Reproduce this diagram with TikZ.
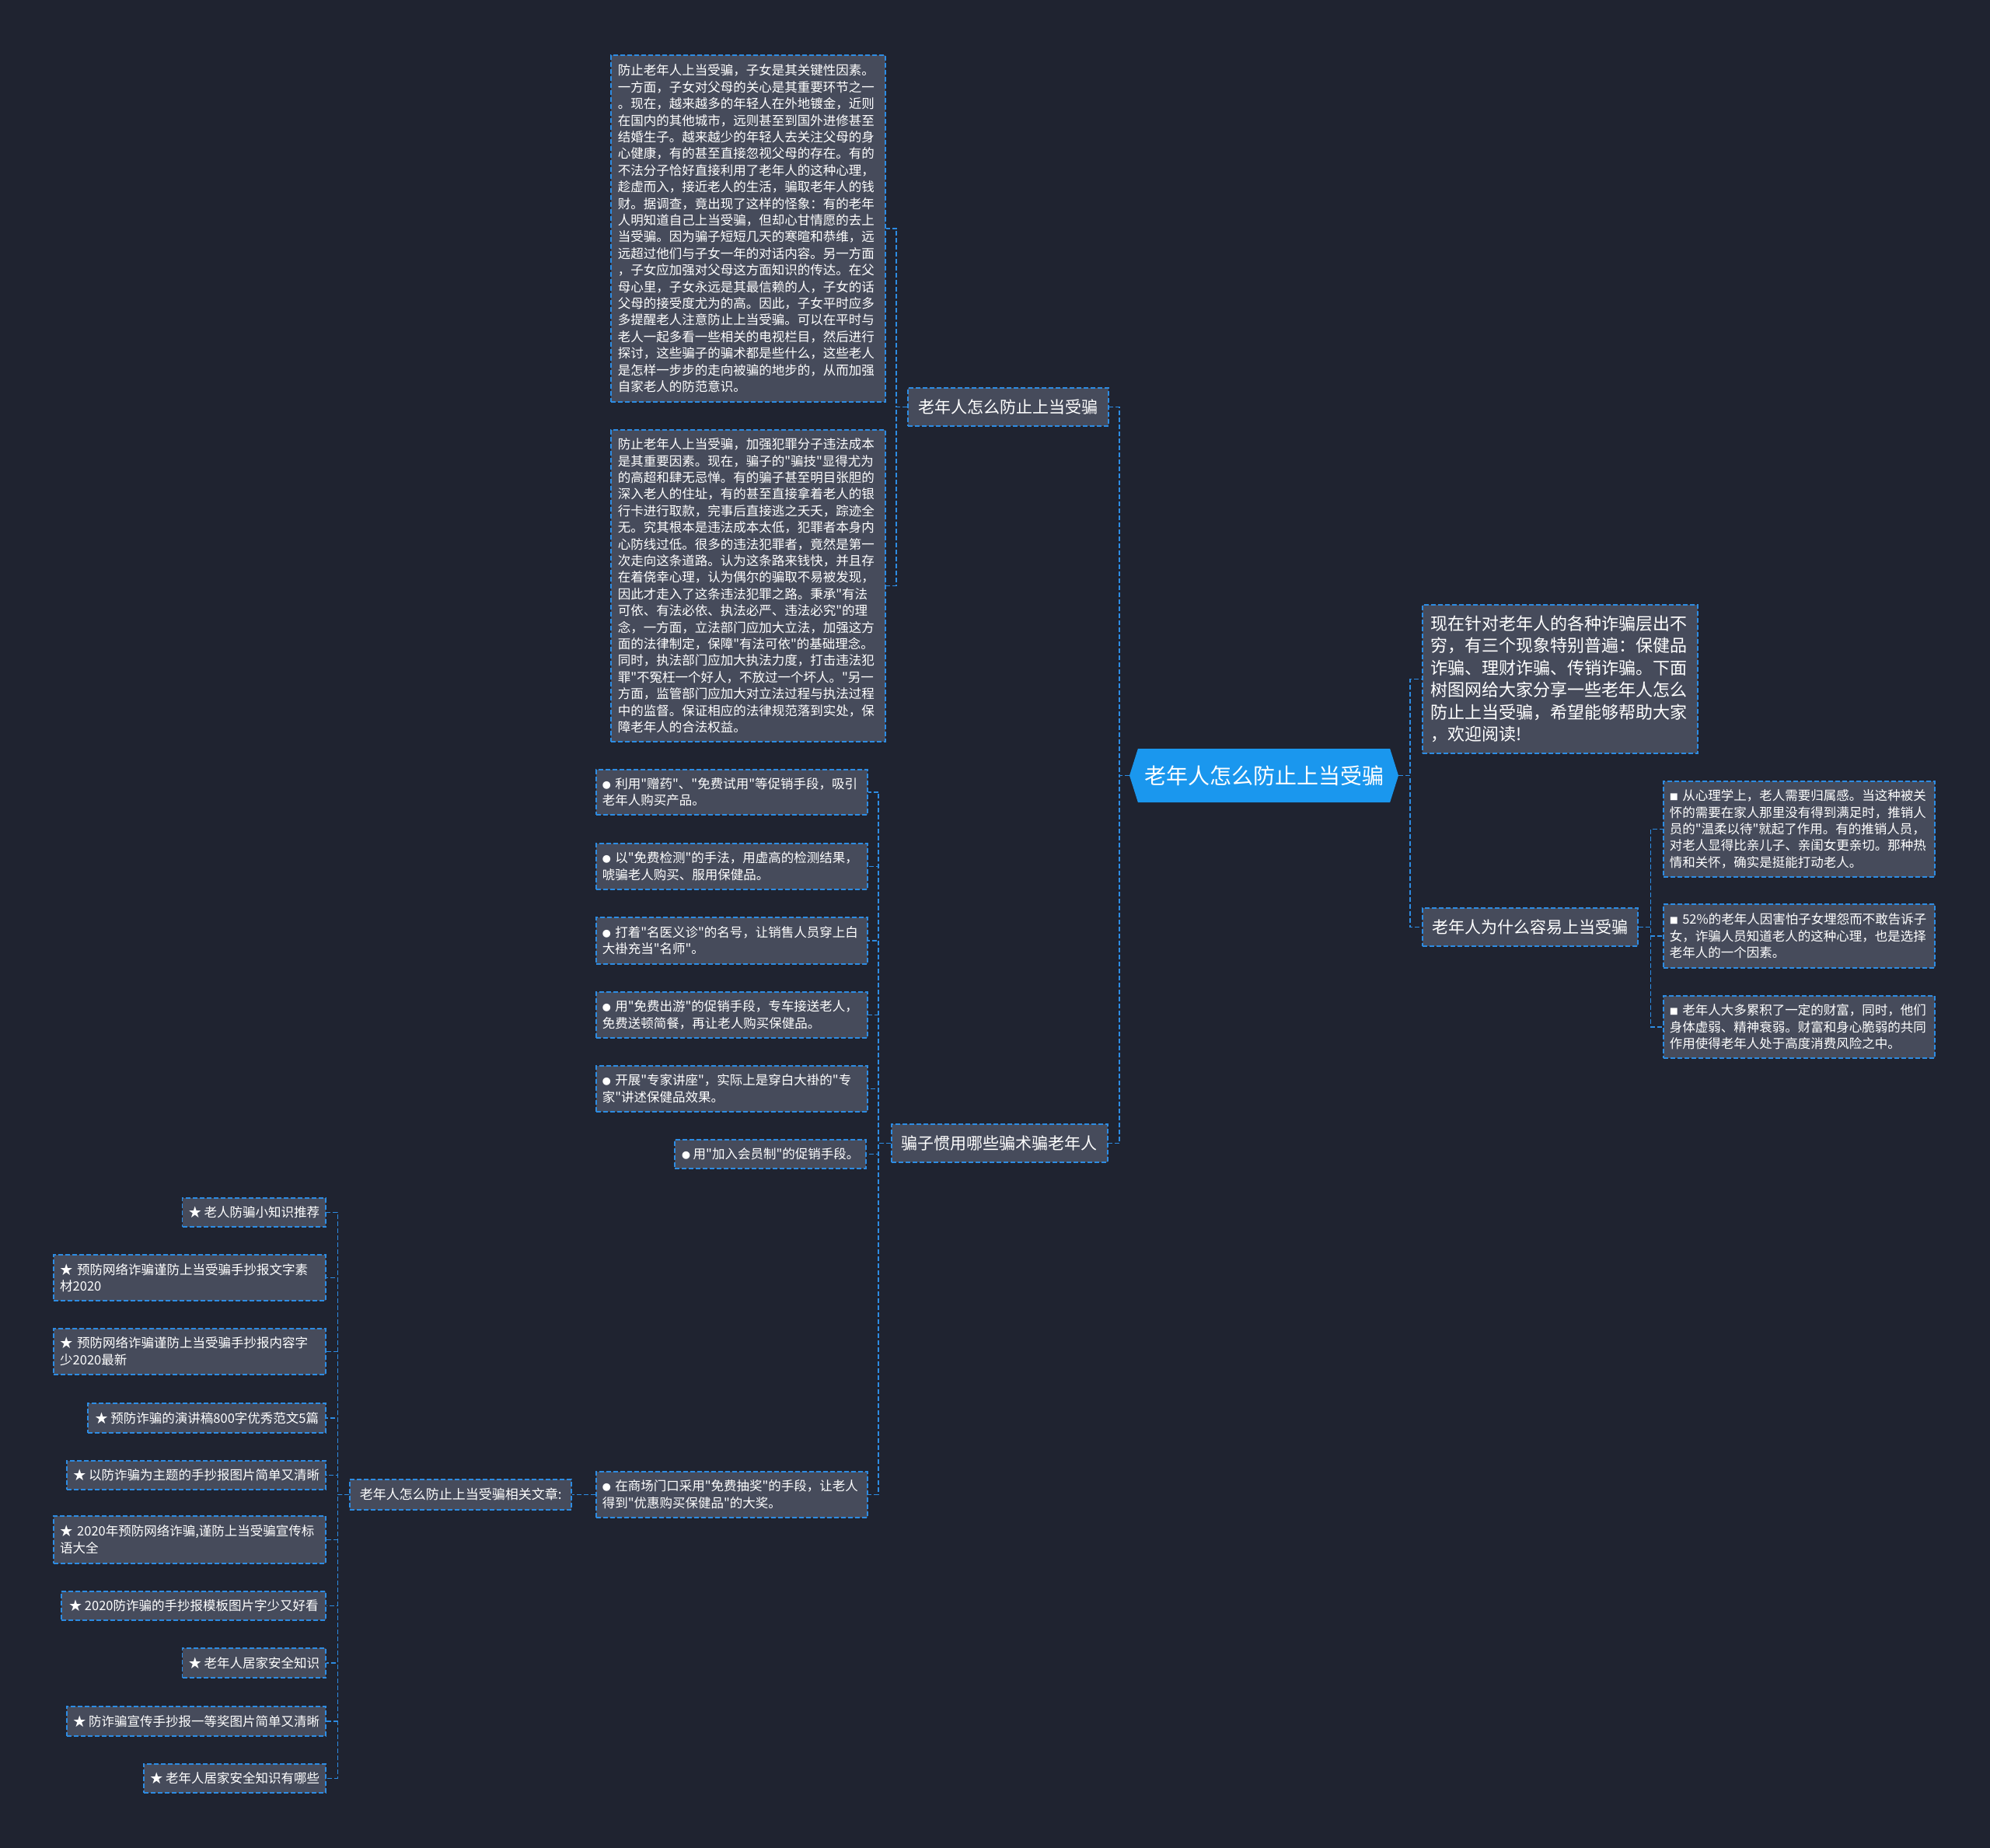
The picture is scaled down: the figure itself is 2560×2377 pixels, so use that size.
\documentclass[tikz,border=0pt]{standalone}
\usepackage{fontspec}
\newfontfamily\cjk{Noto Sans CJK SC}
\usetikzlibrary{shapes.symbols}
\definecolor{mapbg}{HTML}{1F2330}
\definecolor{mapbox}{HTML}{464B5B}
\definecolor{mapline}{HTML}{2D8CE3}
\definecolor{maproot}{HTML}{1A97EE}
\newcommand{\leaffont}{\cjk\fontsize{16.5}{21.4}\selectfont}
\newcommand{\dotmark}{{\fontsize{11}{11}\selectfont ●}}
\newcommand{\sqmark}{{\fontsize{11}{11}\selectfont ■}}
\tikzset{
  leaf/.style={draw=mapline, dash pattern=on 6pt off 3pt, line width=1.6pt,
    fill=mapbox, text=white, font=\leaffont, align=left, anchor=north west,
    inner xsep=8pt, inner ysep=4pt},
  topic/.style={leaf, font=\cjk\fontsize{21}{26}\selectfont, align=center,
    minimum height=49pt, inner xsep=12pt},
  root/.style={signal, signal to=west and east, signal pointer angle=145,
    fill=maproot, text=white, font=\cjk\fontsize{28}{34}\selectfont,
    minimum width=346pt, minimum height=69pt, inner xsep=4pt},
  link/.style={draw=mapline, dash pattern=on 6pt off 3pt, line width=1.6pt},
}

\begin{document}
\begin{tikzpicture}[x=1pt, y=-1pt]
  \fill[mapbg] (0,0) rectangle (2560,2377);
  \useasboundingbox (0,0) rectangle (2560,2377);

  % centre and first level
  \node[root] (root) at (1626,997.5) {老年人怎么防止上当受骗};
  \node[topic, minimum width=258pt] (prevent) at (1167,498) {老年人怎么防止上当受骗};
  \node[topic, minimum width=278pt] (tricks) at (1146,1445) {骗子惯用哪些骗术骗老年人};
  \node[topic, minimum width=277pt] (why) at (1829,1167) {老年人为什么容易上当受骗};
  \node[leaf, font=\cjk\fontsize{22}{28.4}\selectfont, text width=332pt,
    minimum height=191pt, inner xsep=11pt] (intro) at (1829,777)
    {现在针对老年人的各种诈骗层出不\\
     穷，有三个现象特别普遍：保健品\\
     诈骗、理财诈骗、传销诈骗。下面\\
     树图网给大家分享一些老年人怎么\\
     防止上当受骗，希望能够帮助大家\\
     ，欢迎阅读!};

  % how to prevent
  \node[leaf, text width=335pt, minimum height=446pt, inner xsep=9pt] (family) at (785,70)
    {防止老年人上当受骗，子女是其关键性因素。\\
     一方面，子女对父母的关心是其重要环节之一\\
     。现在，越来越多的年轻人在外地镀金，近则\\
     在国内的其他城市，远则甚至到国外进修甚至\\
     结婚生子。越来越少的年轻人去关注父母的身\\
     心健康，有的甚至直接忽视父母的存在。有的\\
     不法分子恰好直接利用了老年人的这种心理，\\
     趁虚而入，接近老人的生活，骗取老年人的钱\\
     财。据调查，竟出现了这样的怪象：有的老年\\
     人明知道自己上当受骗，但却心甘情愿的去上\\
     当受骗。因为骗子短短几天的寒暄和恭维，远\\
     远超过他们与子女一年的对话内容。另一方面\\
     ，子女应加强对父母这方面知识的传达。在父\\
     母心里，子女永远是其最信赖的人，子女的话\\
     父母的接受度尤为的高。因此，子女平时应多\\
     多提醒老人注意防止上当受骗。可以在平时与\\
     老人一起多看一些相关的电视栏目，然后进行\\
     探讨，这些骗子的骗术都是些什么，这些老人\\
     是怎样一步步的走向被骗的地步的，从而加强\\
     自家老人的防范意识。};
  \node[leaf, text width=335pt, minimum height=401pt, inner xsep=9pt] (law) at (785,552)
    {防止老年人上当受骗，加强犯罪分子违法成本\\
     是其重要因素。现在，骗子的"骗技"显得尤为\\
     的高超和肆无忌惮。有的骗子甚至明目张胆的\\
     深入老人的住址，有的甚至直接拿着老人的银\\
     行卡进行取款，完事后直接逃之夭夭，踪迹全\\
     无。究其根本是违法成本太低，犯罪者本身内\\
     心防线过低。很多的违法犯罪者，竟然是第一\\
     次走向这条道路。认为这条路来钱快，并且存\\
     在着侥幸心理，认为偶尔的骗取不易被发现，\\
     因此才走入了这条违法犯罪之路。秉承"有法\\
     可依、有法必依、执法必严、违法必究"的理\\
     念，一方面，立法部门应加大立法，加强这方\\
     面的法律制定，保障"有法可依"的基础理念。\\
     同时，执法部门应加大执法力度，打击违法犯\\
     罪"不冤枉一个好人，不放过一个坏人。"另一\\
     方面，监管部门应加大对立法过程与执法过程\\
     中的监督。保证相应的法律规范落到实处，保\\
     障老年人的合法权益。};

  % why
  \node[leaf, text width=333pt, minimum height=123pt] (belong) at (2139,1004)
    {\sqmark\ 从心理学上，老人需要归属感。当这种被关\\
     怀的需要在家人那里没有得到满足时，推销人\\
     员的"温柔以待"就起了作用。有的推销人员，\\
     对老人显得比亲儿子、亲闺女更亲切。那种热\\
     情和关怀，确实是挺能打动老人。};
  \node[leaf, text width=333pt, minimum height=82pt] (blame) at (2139,1162)
    {\sqmark\ 52\%的老年人因害怕子女埋怨而不敢告诉子\\
     女，诈骗人员知道老人的这种心理，也是选择\\
     老年人的一个因素。};
  \node[leaf, text width=333pt, minimum height=80pt] (wealth) at (2139,1280)
    {\sqmark\ 老年人大多累积了一定的财富，同时，他们\\
     身体虚弱、精神衰弱。财富和身心脆弱的共同\\
     作用使得老年人处于高度消费风险之中。};

  % tricks
  \node[leaf, text width=333pt, minimum height=58pt] (gift) at (766,989)
    {\dotmark\ 利用"赠药"、"免费试用"等促销手段，吸引\\老年人购买产品。};
  \node[leaf, text width=333pt, minimum height=59pt] (check) at (766,1084)
    {\dotmark\ 以"免费检测"的手法，用虚高的检测结果，\\唬骗老人购买、服用保健品。};
  \node[leaf, text width=333pt, minimum height=60pt] (doctor) at (766,1179)
    {\dotmark\ 打着"名医义诊"的名号，让销售人员穿上白\\大褂充当"名师"。};
  \node[leaf, text width=333pt, minimum height=59pt] (trip) at (766,1275)
    {\dotmark\ 用"免费出游"的促销手段，专车接送老人，\\免费送顿简餐，再让老人购买保健品。};
  \node[leaf, text width=333pt, minimum height=59pt] (lecture) at (766,1370)
    {\dotmark\ 开展"专家讲座"，实际上是穿白大褂的"专\\家"讲述保健品效果。};
  \node[leaf, anchor=north east, minimum width=246pt, minimum height=37pt] (member) at (1115,1465)
    {\dotmark\ 用"加入会员制"的促销手段。};
  \node[leaf, text width=333pt, minimum height=59pt] (lottery) at (766,1892)
    {\dotmark\ 在商场门口采用"免费抽奖"的手段，让老人\\得到"优惠购买保健品"的大奖。};
  \node[leaf, anchor=north east, font=\cjk\fontsize{17}{21}\selectfont,
    minimum width=285pt, minimum height=39pt] (related) at (736,1902)
    {老年人怎么防止上当受骗相关文章:};

  % related articles
  \node[leaf, anchor=north east, minimum width=183pt, minimum height=37pt] (s1) at (420,1540) {★ 老人防骗小知识推荐};
  \node[leaf, anchor=north east, text width=334pt, minimum height=59pt] (s2) at (420,1613) {★ 预防网络诈骗谨防上当受骗手抄报文字素\\材2020};
  \node[leaf, anchor=north east, text width=334pt, minimum height=59pt] (s3) at (420,1708) {★ 预防网络诈骗谨防上当受骗手抄报内容字\\少2020最新};
  \node[leaf, anchor=north east, minimum width=306pt, minimum height=38pt] (s4) at (420,1804) {★ 预防诈骗的演讲稿800字优秀范文5篇};
  \node[leaf, anchor=north east, minimum width=333pt, minimum height=37pt] (s5) at (420,1878) {★ 以防诈骗为主题的手抄报图片简单又清晰};
  \node[leaf, anchor=north east, text width=334pt, minimum height=61pt] (s6) at (420,1949) {★ 2020年预防网络诈骗,谨防上当受骗宣传标\\语大全};
  \node[leaf, anchor=north east, minimum width=340pt, minimum height=37pt] (s7) at (420,2046) {★ 2020防诈骗的手抄报模板图片字少又好看};
  \node[leaf, anchor=north east, minimum width=183pt, minimum height=38pt] (s8) at (420,2119) {★ 老年人居家安全知识};
  \node[leaf, anchor=north east, minimum width=333pt, minimum height=38pt] (s9) at (420,2194) {★ 防诈骗宣传手抄报一等奖图片简单又清晰};
  \node[leaf, anchor=north east, minimum width=234pt, minimum height=37pt] (s10) at (420,2268) {★ 老年人居家安全知识有哪些};

  % connectors
  \draw[link] (root.west) -- ++(-13,0) |- (prevent.east);
  \draw[link] (root.west) -- ++(-13,0) |- (tricks.east);
  \draw[link] (root.east) -- ++(15,0) |- (intro.west);
  \draw[link] (root.east) -- ++(15,0) |- (why.west);
  \foreach \n in {family,law}
    \draw[link] (prevent.west) -- ++(-14,0) |- (\n.east);
  \foreach \n in {belong,blame,wealth}
    \draw[link] (why.east) -- ++(16,0) |- (\n.west);
  \foreach \n in {gift,check,doctor,trip,lecture,member,lottery}
    \draw[link] (tricks.west) -- ++(-16,0) |- (\n.east);
  \draw[link] (lottery.west) -- (related.east);
  \foreach \n in {s1,s2,s3,s4,s5,s6,s7,s8,s9,s10}
    \draw[link] (related.west) -- ++(-15,0) |- (\n.east);
\end{tikzpicture}
\end{document}
